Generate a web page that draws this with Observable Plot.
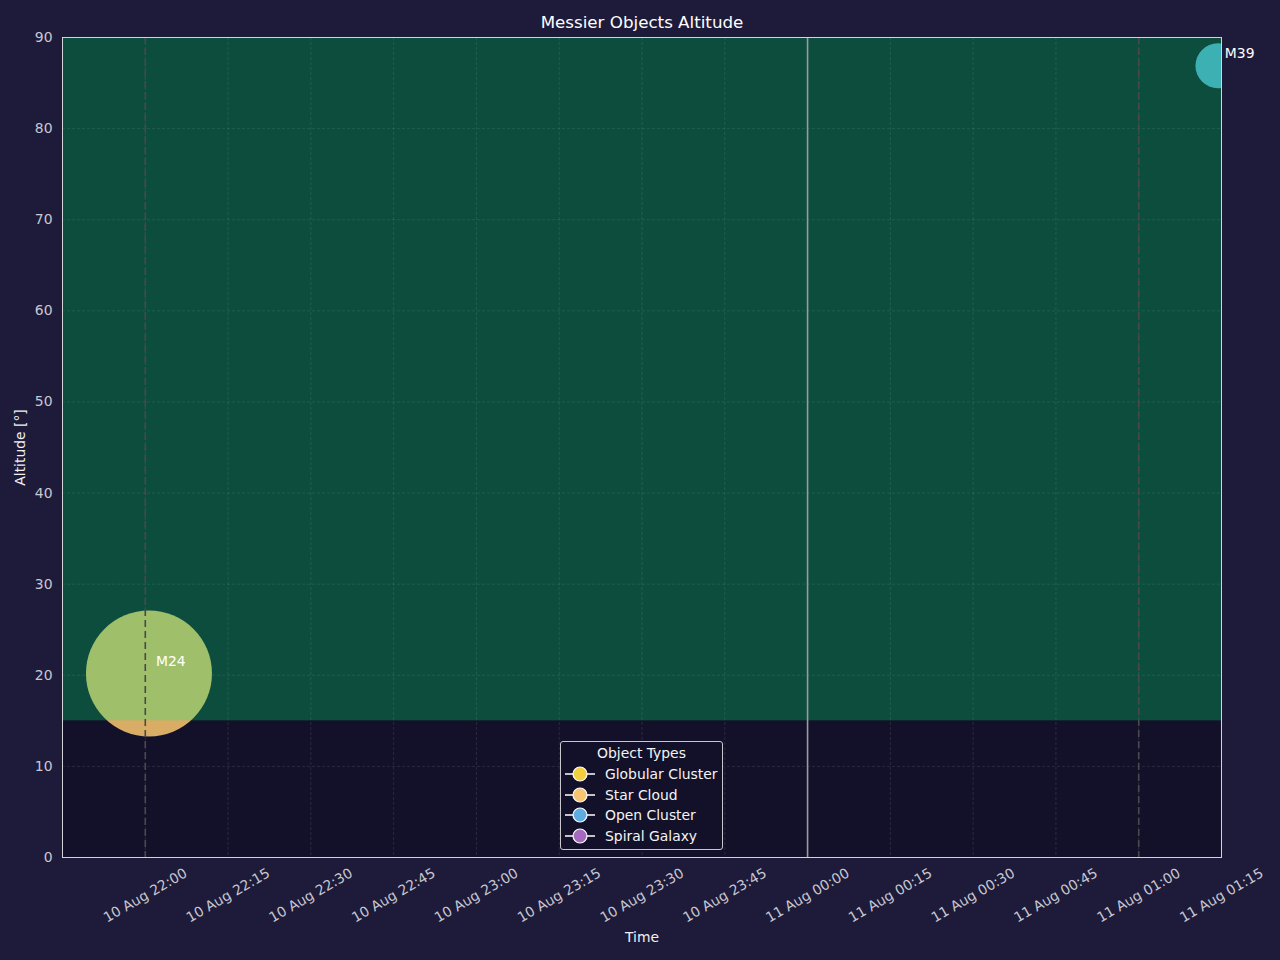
<!DOCTYPE html>
<html>
<head>
<meta charset="utf-8">
<script src="https://cdn.jsdelivr.net/npm/d3@7"></script>
<script src="https://cdn.jsdelivr.net/npm/@observablehq/plot@0.6"></script>
<style>
  html, body { margin: 0; padding: 0; background: #1e1b3a; }
  #wrap { position: relative; width: 1280px; height: 960px; font-family: "DejaVu Sans", sans-serif; }
  #legend {
    position: absolute; left: 560px; top: 741px; width: 161px; height: 107px;
    border: 1px solid #c8c8cc; border-radius: 3px; background: #13112a;
    color: #f4f4f4; font-size: 13.9px; box-sizing: content-box;
  }
  #legend .title { position: absolute; top: 3px; left: 0; width: 100%; text-align: center; }
  #legend .row { position: absolute; left: 4px; height: 20px; display: flex; align-items: center; }
  #legend .row svg { margin-right: 10px; }
</style>
</head>
<body>
<div id="wrap"></div>
<script>
// ---- data ----
const objectNames = ["M24", "M39"];
const objectTypes = ["Star Cloud", "Open Cluster"];
const objectTimes = ["2024-08-10T22:00:40Z", "2024-08-11T01:14:20Z"];
const objectAltitudes = [20.2, 86.9];
const objectSizes = [90, 32]; // apparent size, arcmin

const typeNames = ["Globular Cluster", "Star Cloud", "Open Cluster", "Spiral Galaxy"];
const typeColors = ["#f4d03f", "#f8c471", "#5dade2", "#a569bd"];

const xDomain = ["2024-08-10T21:45:00Z", "2024-08-11T01:15:00Z"];
const xTicks = ["2024-08-10T22:00:00Z", "2024-08-10T22:15:00Z", "2024-08-10T22:30:00Z", "2024-08-10T22:45:00Z",
  "2024-08-10T23:00:00Z", "2024-08-10T23:15:00Z", "2024-08-10T23:30:00Z", "2024-08-10T23:45:00Z",
  "2024-08-11T00:00:00Z", "2024-08-11T00:15:00Z", "2024-08-11T00:30:00Z", "2024-08-11T00:45:00Z",
  "2024-08-11T01:00:00Z", "2024-08-11T01:15:00Z"];
const xTickLabels = ["10 Aug 22:00", "10 Aug 22:15", "10 Aug 22:30", "10 Aug 22:45", "10 Aug 23:00",
  "10 Aug 23:15", "10 Aug 23:30", "10 Aug 23:45", "11 Aug 00:00", "11 Aug 00:15", "11 Aug 00:30",
  "11 Aug 00:45", "11 Aug 01:00", "11 Aug 01:15"];
const yTicks = [0, 10, 20, 30, 40, 50, 60, 70, 80, 90];
const horizonAltitude = 15;
const darkTimes = ["2024-08-10T22:00:00Z", "2024-08-11T01:00:00Z"];
const midnight = ["2024-08-11T00:00:00Z"];

// ---- build ----
const objects = objectNames.map((n, i) => ({
  name: n, type: objectTypes[i], time: new Date(objectTimes[i]),
  alt: objectAltitudes[i], size: objectSizes[i]
}));
const ticks = xTicks.map((t, i) => ({time: new Date(t), label: xTickLabels[i]}));
const domainDates = xDomain.map(d => new Date(d));
const FS = 13.9;

const chart = Plot.plot({
  width: 1280, height: 960,
  marginTop: 37, marginLeft: 62, marginRight: 59, marginBottom: 103,
  style: {background: "transparent", color: "#c8c8d2", fontSize: FS + "px", fontFamily: "DejaVu Sans, sans-serif"},
  x: {type: "utc", domain: domainDates, axis: null},
  y: {domain: [0, 90]},
  r: {type: "linear", domain: [0, 90], range: [0, 63]},
  color: {domain: typeNames, range: typeColors},
  marks: [
    Plot.frame({fill: "#13112a"}),
    Plot.ruleX(ticks, {x: "time", stroke: "#ffffff", strokeOpacity: 0.13, strokeDasharray: "3,2", strokeWidth: 0.8}),
    Plot.ruleY(yTicks, {stroke: "#ffffff", strokeOpacity: 0.13, strokeDasharray: "3,2", strokeWidth: 0.8}),
    Plot.dot(objects, {x: "time", y: "alt", r: "size", fill: "type", fillOpacity: 0.87, clip: true}),
    Plot.rect([horizonAltitude], {x1: () => domainDates[0], x2: () => domainDates[1], y1: d => d, y2: 90,
      fill: "#00f171", fillOpacity: 0.27}),
    Plot.ruleX(darkTimes.map(d => new Date(d)), {stroke: "#4a4848", strokeWidth: 1.6, strokeDasharray: "7,4"}),
    Plot.ruleX(midnight.map(d => new Date(d)), {stroke: "#9a9aa0", strokeWidth: 1.6}),
    Plot.text(objects, {x: "time", y: "alt", text: "name", dx: 7, dy: -12, textAnchor: "start", lineAnchor: "middle", fill: "#ffffff", fontSize: FS}),
    Plot.frame({stroke: "#d4d4d8", strokeWidth: 1}),
    Plot.axisY({ticks: yTicks, tickSize: 0, tickPadding: 10, label: null, fill: "#c8c8d2", fontSize: FS}),
    Plot.text(ticks, {x: "time", text: "label", frameAnchor: "bottom", dy: 38, rotate: -30, textAnchor: "middle", lineAnchor: "middle", fill: "#c8c8d2", fontSize: FS}),
    Plot.text(["Time"], {frameAnchor: "bottom", dy: 80, lineAnchor: "middle", textAnchor: "middle", fill: "#f0f0f0", fontSize: FS}),
    Plot.text(["Altitude [°]"], {frameAnchor: "left", dx: -42, rotate: -90, lineAnchor: "middle", textAnchor: "middle", fill: "#f0f0f0", fontSize: FS}),
    Plot.text(["Messier Objects Altitude"], {frameAnchor: "top", dy: -15, lineAnchor: "middle", textAnchor: "middle", fill: "#ffffff", fontSize: 16.7})
  ]
});

const wrap = document.getElementById("wrap");
wrap.appendChild(chart);

// legend
const legend = document.createElement("div");
legend.id = "legend";
let html = `<div class="title">Object Types</div>`;
typeNames.forEach((t, i) => {
  const top = 22 + i * 20.7;
  html += `<div class="row" style="top:${top}px"><svg width="30" height="20">
    <line x1="0" y1="10" x2="30" y2="10" stroke="#ffffff" stroke-width="1.5"/>
    <circle cx="15" cy="10" r="7" fill="${typeColors[i]}" stroke="#ffffff" stroke-width="1.2"/></svg>${t}</div>`;
});
legend.innerHTML = html;
wrap.appendChild(legend);
</script>
</body>
</html>
